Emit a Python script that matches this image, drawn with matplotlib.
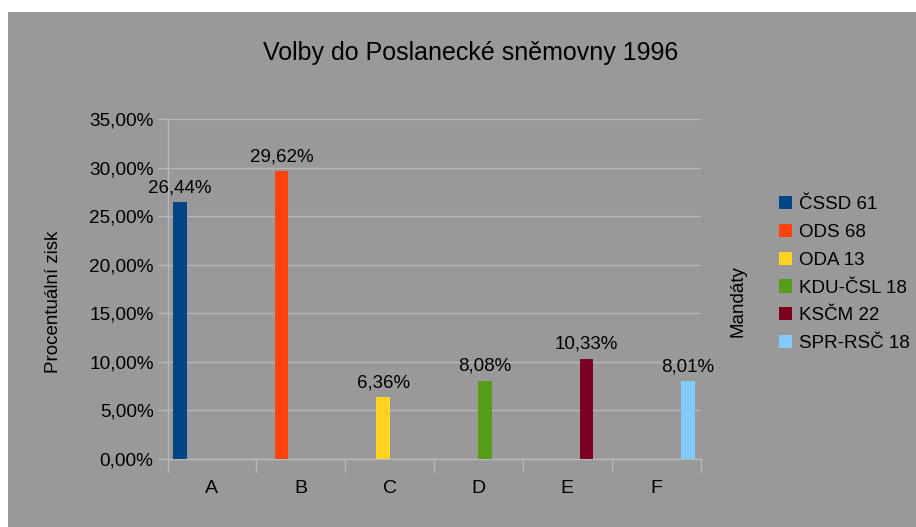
import matplotlib
matplotlib.use("Agg")
import matplotlib.pyplot as plt
from matplotlib.patches import Rectangle
import numpy as np

plt.rcParams['font.family'] = ['Liberation Sans', 'DejaVu Sans']

categories = ["A", "B", "C", "D", "E", "F"]
parties = ["ČSSD 61", "ODS 68", "ODA 13", "KDU-ČSL 18", "KSČM 22", "SPR-RSČ 18"]
percent = [26.44, 29.62, 6.36, 8.08, 10.33, 8.01]
colors = ["#004586", "#ff420e", "#ffd320", "#579d1c", "#7e0021", "#83caff"]
yticks = [0, 5, 10, 15, 20, 25, 30, 35]

W, H = 916, 527
BG = "#999999"
GRID = "#b8b8b8"

fig = plt.figure(figsize=(W / 100, H / 100), dpi=100)
fig.patch.set_facecolor("white")
fig.patches.append(Rectangle((8 / W, 0), 1 - 8 / W, 1 - 12 / H, transform=fig.transFigure,
                             facecolor=BG, edgecolor="none", zorder=-10))

def fx(px):
    return px / W

def fy(py):
    return 1 - py / H

left, right, top, bottom = 167.5, 700.5, 119, 459
ax = fig.add_axes([fx(left), fy(bottom), fx(right) - fx(left), fy(top) - fy(bottom)])
ax.set_facecolor(BG)
ax.set_xlim(-0.5, len(categories) - 0.5)
ax.set_ylim(0, 35)

step = 0.1445
width = 0.155
n = len(parties)
handles = []
for j, (val, col, lab) in enumerate(zip(percent, colors, parties)):
    xpos = j + (j - (n - 1) / 2) * step
    b = ax.bar(xpos, val, width=width, color=col, zorder=3, label=lab)
    handles.append(b)
    ax.annotate(f"{val:.2f}%".replace(".", ","), (xpos, val), xytext=(0, 7.2),
                textcoords="offset points", ha="center", va="baseline",
                fontsize=13.5, color="black", zorder=4)

ax.set_yticks(yticks)
ax.set_yticklabels([f"{v:.2f}%".replace(".", ",") for v in yticks], fontsize=13.7)
ax.yaxis.grid(True, color=GRID, linewidth=1.0, zorder=0)
ax.set_axisbelow(True)

# category labels centered, tick marks at boundaries
ax.set_xticks(np.arange(-0.5, len(categories), 1.0))
ax.set_xticklabels([])
ax.set_xticks(np.arange(len(categories)), minor=True)
ax.set_xticklabels(categories, minor=True, fontsize=14)
ax.tick_params(axis="x", which="major", length=9, color=GRID, width=1)
ax.tick_params(axis="x", which="minor", length=0, pad=15)
ax.tick_params(axis="y", length=7, color=GRID, width=1, pad=3)

for s in ["top", "right"]:
    ax.spines[s].set_visible(False)
for s in ["left", "bottom"]:
    ax.spines[s].set_color(GRID)
    ax.spines[s].set_linewidth(1.0)

fig.text(fx(471), fy(53), "Volby do Poslanecké sněmovny 1996", ha="center", va="center",
         fontsize=18, color="black")
fig.text(fx(53), fy(302), "Procentuální zisk", rotation=90, ha="center", va="center",
         fontsize=13.5, color="black")
fig.text(fx(738), fy(301), "Mandáty", rotation=90, ha="center", va="center",
         fontsize=13.5, color="black")

leg = fig.legend(handles=handles, labels=parties, loc="upper left",
                 bbox_to_anchor=(fx(779), fy(196)), bbox_transform=fig.transFigure,
                 frameon=False, fontsize=13.5, handlelength=0.7, handleheight=0.7,
                 handletextpad=0.36, labelspacing=0.57, borderpad=0, borderaxespad=0)

fig.savefig("out.png", dpi=100, facecolor=fig.get_facecolor())
